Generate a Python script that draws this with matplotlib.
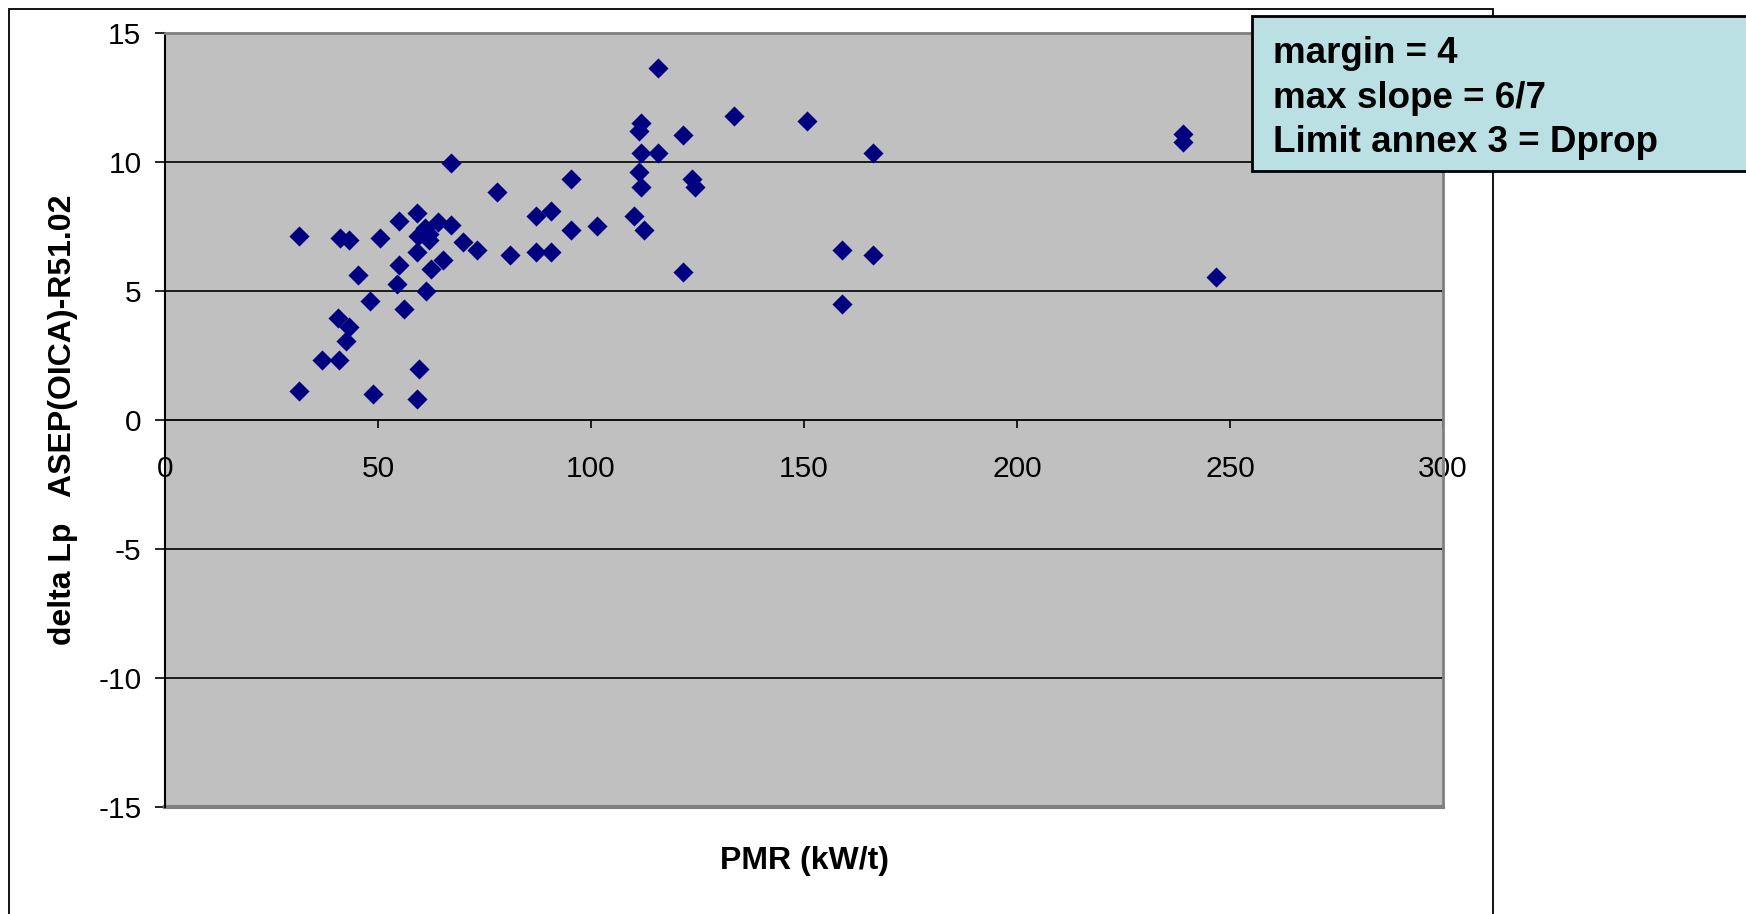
import matplotlib
matplotlib.use("Agg")
import matplotlib.pyplot as plt
from matplotlib.patches import Rectangle

plt.rcParams['font.family'] = ['Liberation Sans', 'DejaVu Sans']
plt.rcParams['axes.unicode_minus'] = False

# PMR (kW/t) and delta Lp values
pmr = [31.4, 31.4, 36.8, 40.7, 40.8, 41.1, 43.1, 43.1, 42.4, 45.3,
       48.2, 48.8, 50.5, 54.4, 55.0, 55.0, 56.1, 59.1, 59.1, 59.5,
       59.7, 59.1, 61.1, 61.9, 62.0, 61.3, 62.5, 64.0, 65.2, 67.2,
       67.2, 69.9, 73.2, 78.0, 80.9, 87.2, 87.2, 90.6, 90.6, 95.2,
       95.2, 101.5, 110.0, 111.2, 111.2, 111.8, 111.8, 111.8, 112.4, 115.8,
       115.8, 121.5, 121.5, 123.8, 124.4, 133.5, 150.8, 158.9, 158.9, 166.2,
       166.2, 239.0, 239.0, 246.6]
delta_lp = [7.13, 1.12, 2.33, 3.96, 2.33, 7.07, 6.96, 3.59, 3.08, 5.63,
            4.61, 1.02, 7.05, 5.26, 6.02, 7.73, 4.32, 8.02, 6.51, 7.15,
            1.97, 0.83, 7.46, 7.22, 6.96, 4.99, 5.84, 7.67, 6.21, 9.97,
            7.54, 6.90, 6.60, 8.85, 6.40, 7.91, 6.50, 8.09, 6.50, 9.33,
            7.35, 7.53, 7.91, 9.63, 11.20, 11.53, 10.36, 9.04, 7.35, 13.65,
            10.36, 11.03, 5.74, 9.34, 9.04, 11.78, 11.58, 6.59, 4.50, 10.36,
            6.40, 11.08, 10.78, 5.54]

x_ticks = [0, 50, 100, 150, 200, 250, 300]
y_ticks = [-15, -10, -5, 0, 5, 10, 15]
note_lines = ["margin = 4", "max slope = 6/7", "Limit annex 3 = Dprop"]

W, H = 1746, 914
fig = plt.figure(figsize=(W / 100, H / 100), dpi=100)
ax = fig.add_axes([165 / W, 1 - 807 / H, (1443 - 165) / W, (807 - 33) / H])
ax.set_facecolor('#C0C0C0')

# horizontal grid lines
for yv in y_ticks[1:-1]:
    if yv != 0:
        ax.axhline(yv, color='black', lw=1.2, zorder=1)

ax.scatter(pmr, delta_lp, marker='D', s=105, color='#000080', zorder=3, linewidths=0)

ax.set_xlim(0, 300)
ax.set_ylim(-15, 15)
ax.set_xticks(x_ticks)
ax.set_yticks(y_ticks)

# x axis crosses at y = 0
ax.spines['bottom'].set_position(('data', 0))
ax.spines['bottom'].set_color('black')
ax.spines['bottom'].set_linewidth(1.3)
ax.spines['bottom'].set_zorder(2)
ax.spines['left'].set_color('black')
ax.spines['left'].set_linewidth(1.5)
for s in ['top', 'right']:
    ax.spines[s].set_color('#808080')
    ax.spines[s].set_linewidth(2)
# bottom border of the plot area
ax.axhline(-15, color='#808080', lw=3, zorder=2, clip_on=False)

ax.tick_params(axis='y', direction='out', length=7, width=1.2, pad=10, labelsize=21.5)
ax.tick_params(axis='x', direction='out', length=6, width=1.2, pad=19, labelsize=21.5)

ax.set_xlabel('PMR (kW/t)', fontsize=23, fontweight='bold')
ax.xaxis.set_label_coords(0.5, 1 - (861 - 33) / (807 - 33))
ax.xaxis.label.set_va('center')
ax.set_ylabel('delta Lp   ASEP(OICA)-R51.02', fontsize=23, fontweight='bold')
ax.yaxis.set_label_coords((63 - 165) / (1443 - 165), 0.5)
ax.yaxis.label.set_va('center')

# outer chart frame
fig.patches.append(Rectangle((9 / W, -0.05), (1493 - 9) / W, 1.05 - 9 / H,
                             transform=fig.transFigure, fill=False,
                             edgecolor='black', lw=1.3, zorder=5))

# annotation box
fig.patches.append(Rectangle((1252 / W, 1 - 171 / H), 0.5, (171 - 16) / H,
                             transform=fig.transFigure, facecolor='#BBE0E3',
                             edgecolor='black', lw=2, zorder=6))
for i, line in enumerate(note_lines):
    fig.text(1273 / W, 1 - (63 + 44.5 * i) / H, line, fontsize=26.5,
             fontweight='bold', va='baseline', ha='left', zorder=7)

fig.savefig('out.png', dpi=100)
